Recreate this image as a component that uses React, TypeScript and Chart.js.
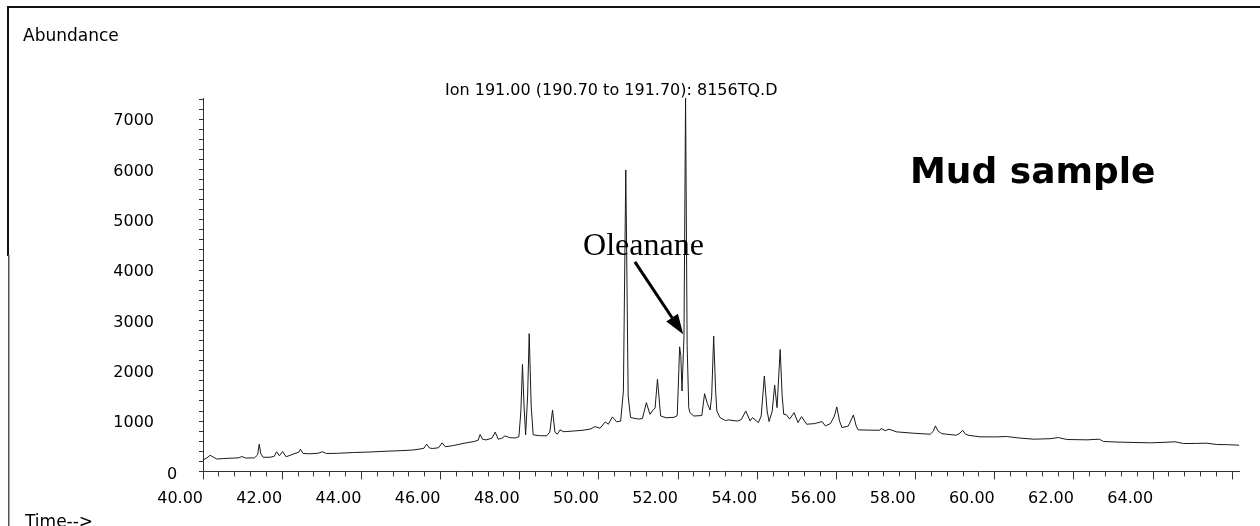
import React, { useEffect, useRef } from 'react';
import { Chart, registerables } from 'chart.js';

Chart.register(...registerables);

// Retention time (min)
const times: number[] = [
  40.0, 40.1, 40.18, 40.27, 40.35, 40.5, 40.7, 40.9, 40.98, 41.08,
  41.3, 41.38, 41.42, 41.46, 41.52, 41.7, 41.8, 41.86, 41.93, 42.01,
  42.1, 42.2, 42.3, 42.42, 42.46, 42.53, 42.7, 42.9, 43.02, 43.12,
  43.4, 43.8, 44.2, 44.6, 45.0, 45.3, 45.48, 45.58, 45.65, 45.72,
  45.8, 45.95, 46.04, 46.12, 46.3, 46.6, 46.85, 46.95, 47.0, 47.06,
  47.15, 47.3, 47.38, 47.46, 47.55, 47.63, 47.75, 47.9, 47.98, 48.03,
  48.07, 48.11, 48.15, 48.2, 48.24, 48.29, 48.34, 48.5, 48.68, 48.76,
  48.83, 48.89, 48.95, 49.02, 49.1, 49.19, 49.4, 49.6, 49.8, 49.9,
  50.03, 50.16, 50.24, 50.34, 50.45, 50.55, 50.62, 50.68, 50.74, 50.8,
  51.0, 51.1, 51.2, 51.29, 51.35, 51.42, 51.48, 51.56, 51.7, 51.9,
  51.98, 52.04, 52.07, 52.1, 52.15, 52.19, 52.23, 52.27, 52.3, 52.4,
  52.6, 52.67, 52.74, 52.81, 52.85, 52.9, 52.95, 52.98, 53.06, 53.2,
  53.27, 53.5, 53.6, 53.71, 53.82, 53.88, 54.03, 54.1, 54.18, 54.25,
  54.3, 54.38, 54.44, 54.5, 54.58, 54.63, 54.67, 54.73, 54.82, 54.93,
  55.03, 55.12, 55.25, 55.45, 55.64, 55.72, 55.85, 55.95, 56.01, 56.08,
  56.14, 56.3, 56.43, 56.5, 56.55, 56.8, 57.1, 57.13, 57.23, 57.33,
  57.52, 57.94, 58.37, 58.45, 58.5, 58.57, 58.66, 58.78, 59.03, 59.12,
  59.19, 59.26, 59.35, 59.63, 60.0, 60.3, 60.6, 60.98, 61.4, 61.61,
  61.82, 62.33, 62.64, 62.75, 63.17, 63.93, 64.2, 64.56, 64.77, 65.1,
  65.34, 65.61, 65.9, 66.17,
];

// Abundance, Ion 191.00
const abundance: number[] = [
  225, 270, 320, 280, 245, 255, 262, 270, 295, 265,
  268, 330, 541, 350, 280, 282, 300, 390, 310, 396,
  290, 320, 350, 380, 442, 356, 350, 360, 390, 355,
  360, 375, 385, 400, 412, 425, 445, 460, 541, 465,
  455, 470, 568, 490, 510, 560, 595, 620, 733, 640,
  625, 660, 780, 640, 660, 706, 670, 665, 690, 1200,
  2125, 1300, 727, 1500, 2739, 1300, 727, 710, 706, 780,
  1221, 780, 739, 826, 790, 792, 805, 818, 845, 891,
  857, 984, 937, 1083, 985, 1000, 1600, 5990, 1500, 1070,
  1040, 1050, 1366, 1135, 1200, 1260, 1830, 1102, 1065, 1075,
  1110, 2475, 2300, 1598, 2700, 7420, 2500, 1267, 1168, 1100,
  1110, 1545, 1350, 1220, 1500, 2690, 1600, 1201, 1069, 1010,
  1023, 1000, 1030, 1201, 1003, 1069, 970, 1100, 1895, 1200,
  990, 1200, 1717, 1267, 2422, 1500, 1135, 1130, 1040, 1168,
  970, 1089, 937, 950, 990, 904, 950, 1100, 1281, 1000,
  871, 900, 1122, 900, 826, 820, 818, 851, 810, 838,
  786, 759, 739, 800, 904, 800, 752, 739, 719, 760,
  818, 740, 715, 687, 685, 693, 665, 640, 650, 673,
  634, 627, 640, 594, 581, 568, 575, 588, 554, 556,
  561, 535, 530, 521,
];

const timeMin = 40;
const timeMax = 66.17;
// labelled (major) time ticks
const timeMajorTicks: number[] = [40, 42, 44, 46, 48, 50, 52, 54, 56, 58, 60, 62, 64, 66];
// unlabelled minor time ticks: every 0.4 min
const timeMinorTicks: number[] = [
  40, 40.4, 40.8, 41.2, 41.6, 42, 42.4, 42.8, 43.2, 43.6, 44, 44.4, 44.8, 45.2, 45.6,
  46, 46.4, 46.8, 47.2, 47.6, 48, 48.4, 48.8, 49.2, 49.6, 50, 50.4, 50.8, 51.2, 51.6,
  52, 52.4, 52.8, 53.2, 53.6, 54, 54.4, 54.8, 55.2, 55.6, 56, 56.4, 56.8, 57.2, 57.6,
  58, 58.4, 58.8, 59.2, 59.6, 60, 60.4, 60.8, 61.2, 61.6, 62, 62.4, 62.8, 63.2, 63.6,
  64, 64.4, 64.8, 65.2, 65.6, 66,
];
const abundanceMax = 7420;
// abundance ticks every 200, labelled every 1000
const abundanceTicks: number[] = [
  0, 200, 400, 600, 800, 1000, 1200, 1400, 1600, 1800, 2000, 2200, 2400, 2600, 2800,
  3000, 3200, 3400, 3600, 3800, 4000, 4200, 4400, 4600, 4800, 5000, 5200, 5400, 5600,
  5800, 6000, 6200, 6400, 6600, 6800, 7000, 7200, 7400,
];
const abundanceLabels: number[] = [1000, 2000, 3000, 4000, 5000, 6000, 7000];

const titleText = 'Ion 191.00 (190.70 to 191.70): 8156TQ.D';
const yAxisTitle = 'Abundance';
const xAxisTitle = 'Time-->';
const zeroLabel = '0';
const sampleLabel = 'Mud sample';
const compoundLabel = 'Oleanane';
const compoundLabelAt = { x: 49.6, y: 4302 };
const arrowTail = { x: 50.91, y: 4164 };
const arrowTip = { x: 52.13, y: 2723 };

const SANS = '"DejaVu Sans", sans-serif';

const overlayPlugin = {
  id: 'overlay',
  afterDraw(chart: any) {
    const ctx: CanvasRenderingContext2D = chart.ctx;
    const xs = chart.scales.x;
    const ys = chart.scales.y;
    ctx.save();
    // frame (top and left edges)
    ctx.strokeStyle = '#111';
    ctx.lineWidth = 2;
    ctx.beginPath();
    ctx.moveTo(7, 7);
    ctx.lineTo(1260, 7);
    ctx.stroke();
    ctx.beginPath();
    ctx.moveTo(8, 6);
    ctx.lineTo(8, 256);
    ctx.stroke();
    ctx.strokeStyle = '#555';
    ctx.lineWidth = 1.5;
    ctx.beginPath();
    ctx.moveTo(8.75, 255);
    ctx.lineTo(8.75, 526);
    ctx.stroke();

    ctx.fillStyle = '#000';
    ctx.textBaseline = 'alphabetic';
    ctx.textAlign = 'left';
    ctx.font = `17px ${SANS}`;
    ctx.fillText(yAxisTitle, 23, 41);
    ctx.fillText(xAxisTitle, 25, 527);

    ctx.font = `16px ${SANS}`;
    ctx.fillText(titleText, 445, 95);

    // zero label of the abundance axis (sits right of the other labels)
    ctx.fillText(zeroLabel, 167, ys.getPixelForValue(0) + 8);

    ctx.font = `bold 36px ${SANS}`;
    ctx.fillText(sampleLabel, 910, 183);

    ctx.font = '32px "Liberation Serif", serif';
    ctx.fillText(compoundLabel, xs.getPixelForValue(compoundLabelAt.x), ys.getPixelForValue(compoundLabelAt.y));

    // arrow
    const x0 = xs.getPixelForValue(arrowTail.x);
    const y0 = ys.getPixelForValue(arrowTail.y);
    const x1 = xs.getPixelForValue(arrowTip.x);
    const y1 = ys.getPixelForValue(arrowTip.y);
    const ang = Math.atan2(y1 - y0, x1 - x0);
    const headLen = 20;
    const headHalf = 7;
    const bx = x1 - headLen * Math.cos(ang);
    const by = y1 - headLen * Math.sin(ang);
    ctx.strokeStyle = '#000';
    ctx.lineWidth = 3;
    ctx.beginPath();
    ctx.moveTo(x0, y0);
    ctx.lineTo(bx, by);
    ctx.stroke();
    ctx.beginPath();
    ctx.moveTo(x1, y1);
    ctx.lineTo(bx + headHalf * Math.sin(ang), by - headHalf * Math.cos(ang));
    ctx.lineTo(bx - headHalf * Math.sin(ang), by + headHalf * Math.cos(ang));
    ctx.closePath();
    ctx.fill();
    ctx.restore();
  },
};

export default function App() {
  const ref = useRef<HTMLCanvasElement | null>(null);
  useEffect(() => {
    if (!ref.current) return;
    const points = times.map((t, i) => ({ x: t, y: abundance[i] }));
    const chart = new Chart(ref.current, {
      type: 'line',
      data: {
        datasets: [
          {
            data: points,
            borderColor: '#1a1a1a',
            borderWidth: 1,
            pointRadius: 0,
            tension: 0,
            fill: false,
            xAxisID: 'x',
            yAxisID: 'y',
          },
        ],
      },
      options: {
        animation: false,
        responsive: false,
        devicePixelRatio: 1,
        events: [],
        layout: { padding: { left: 0, top: 98, right: 21, bottom: 0 } },
        plugins: { legend: { display: false }, tooltip: { enabled: false }, title: { display: false } },
        scales: {
          x: {
            type: 'linear',
            position: 'bottom',
            weight: 1,
            min: timeMin,
            max: timeMax,
            grid: { drawOnChartArea: false, drawTicks: true, tickLength: 8, color: '#333' },
            border: { display: true, color: '#333', width: 1 },
            afterBuildTicks: (s: any) => {
              s.ticks = timeMajorTicks.map((v) => ({ value: v }));
            },
            ticks: {
              autoSkip: false,
              maxRotation: 0,
              minRotation: 0,
              align: 'end',
              padding: 10,
              color: '#000',
              font: { family: SANS, size: 16 },
              callback: (v: any) => (Number(v) < 65 ? Number(v).toFixed(2) : ''),
            },
            afterFit: (s: any) => {
              s.height = 52;
            },
          },
          xMinor: {
            type: 'linear',
            position: 'bottom',
            weight: 0,
            min: timeMin,
            max: timeMax,
            grid: { drawOnChartArea: false, drawTicks: true, tickLength: 5, color: '#333' },
            border: { display: false },
            afterBuildTicks: (s: any) => {
              s.ticks = timeMinorTicks.map((v) => ({ value: v }));
            },
            ticks: {
              autoSkip: false,
              maxRotation: 0,
              callback: () => '',
            },
            afterFit: (s: any) => {
              s.height = 0;
            },
          },
          y: {
            type: 'linear',
            position: 'left',
            min: 0,
            max: abundanceMax,
            grid: { drawOnChartArea: false, drawTicks: true, tickLength: 4, color: '#333' },
            border: { display: true, color: '#333', width: 1 },
            afterBuildTicks: (s: any) => {
              s.ticks = abundanceTicks.map((v) => ({ value: v }));
            },
            ticks: {
              autoSkip: false,
              padding: 45,
              labelOffset: 2,
              color: '#000',
              font: { family: SANS, size: 16 },
              callback: (v: any) => (abundanceLabels.includes(Math.round(Number(v))) ? String(Math.round(Number(v))) : ''),
            },
            afterFit: (s: any) => {
              s.width = 203;
            },
          },
        },
      },
      plugins: [overlayPlugin],
    });
    return () => chart.destroy();
  }, []);
  return (
    <div style={{ position: 'fixed', left: 0, top: 0, width: 1260, height: 526, background: '#fff' }}>
      <canvas ref={ref} width={1260} height={526} style={{ display: 'block' }} />
    </div>
  );
}
